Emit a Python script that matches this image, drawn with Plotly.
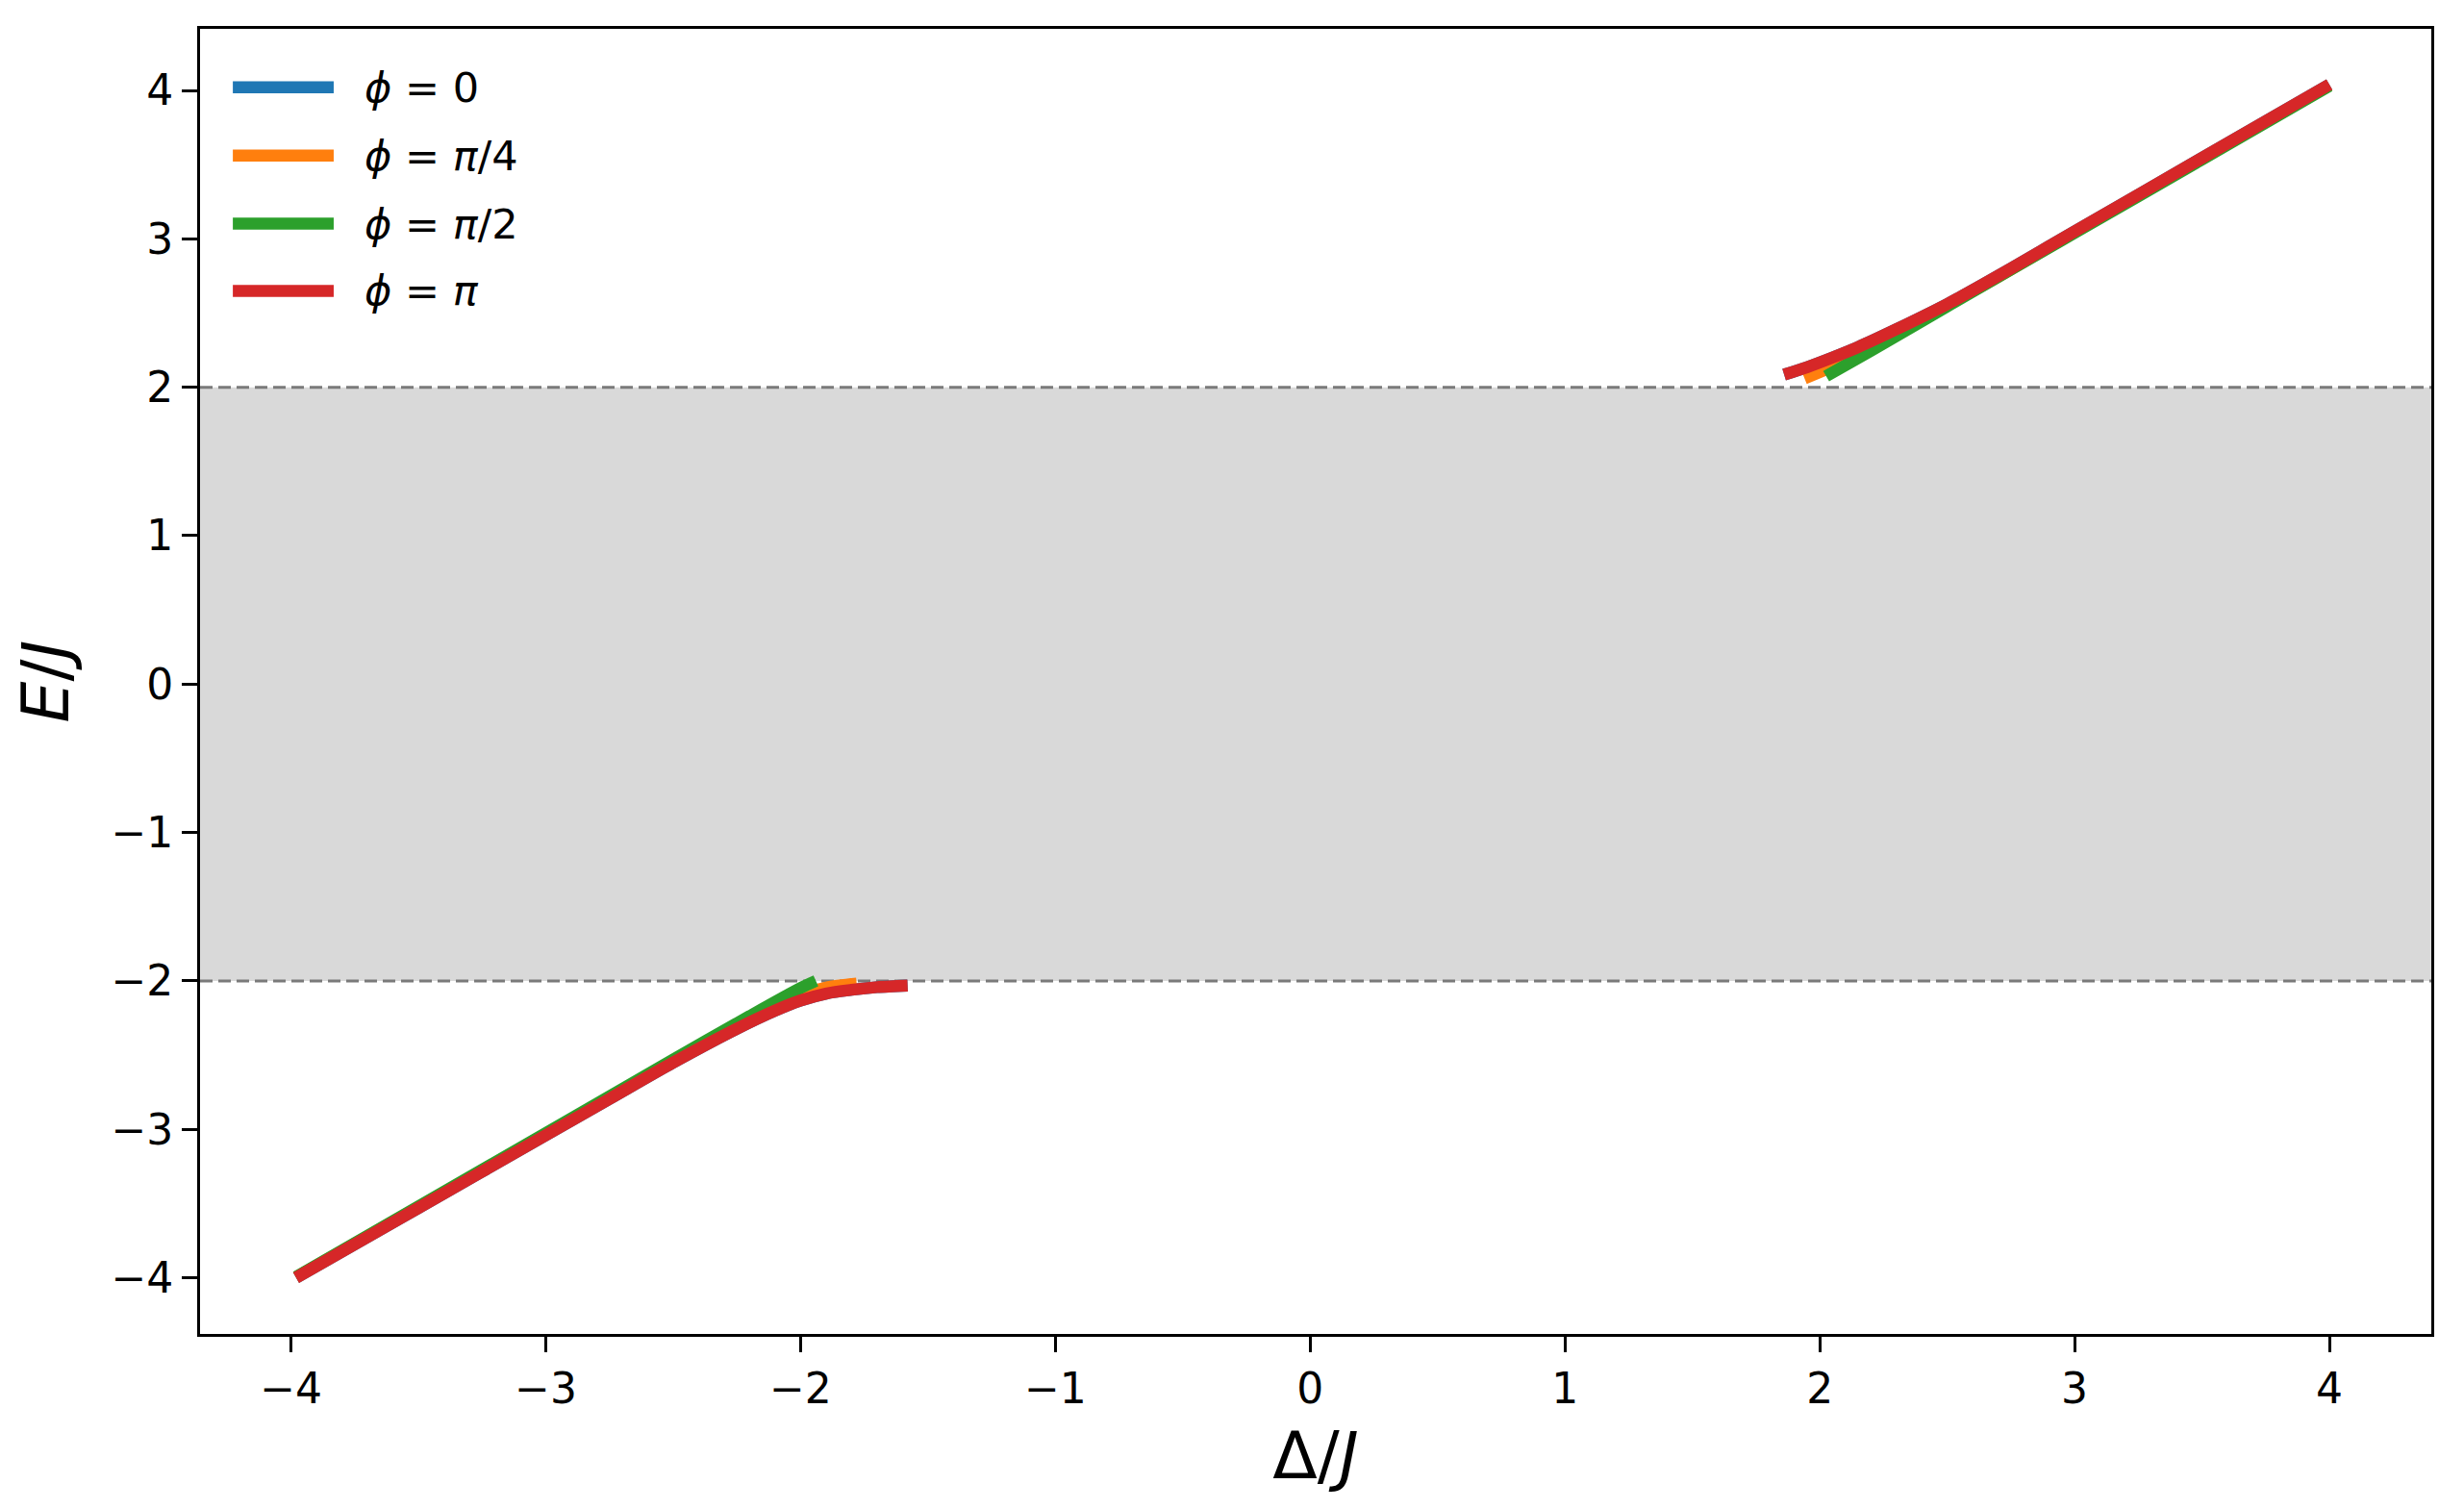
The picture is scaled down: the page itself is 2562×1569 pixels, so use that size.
import plotly.graph_objects as go

# ---- data ----
series_names = ["<i>ϕ</i> = 0", "<i>ϕ</i> = <i>π</i>/4", "<i>ϕ</i> = <i>π</i>/2", "<i>ϕ</i> = <i>π</i>"]
series_colors = ["#1f77b4", "#ff7f0e", "#2ca02c", "#d62728"]

# phi = 0 (hidden under the other curves in the reference)
d0_low = [-3.98, -3.5, -3.0, -2.75, -2.5, -2.25, -2.1, -2.0, -1.9, -1.8, -1.7, -1.58]
e0_low = [-4.0, -3.53, -3.04, -2.795, -2.55, -2.322, -2.2, -2.132, -2.085, -2.06, -2.042, -2.031]
d0_up = [1.86, 1.95, 2.05, 2.15, 2.3, 2.5, 2.75, 3.0, 3.5, 4.0]
e0_up = [2.085, 2.135, 2.2, 2.27, 2.39, 2.56, 2.80, 3.05, 3.545, 4.04]

# phi = pi/4
d1_low = [-3.98, -3.0, -2.5, -2.2, -2.0, -1.9, -1.78]
e1_low = [-3.997, -3.03, -2.54, -2.26, -2.095, -2.045, -2.018]
d1_up = [1.94, 2.05, 2.2, 2.4, 2.7, 3.0, 3.5, 4.0]
e1_up = [2.06, 2.14, 2.27, 2.46, 2.745, 3.045, 3.54, 4.035]

# phi = pi/2
d2_low = [-3.98, -3.0, -2.5, -2.2, -2.0, -1.94]
e2_low = [-3.995, -3.025, -2.53, -2.237, -2.048, -2.0]
d2_up = [2.025, 2.2, 2.5, 3.0, 3.5, 4.0]
e2_up = [2.075, 2.245, 2.545, 3.04, 3.535, 4.03]

# phi = pi
d3_low = [-3.98, -3.5, -3.0, -2.75, -2.5, -2.25, -2.1, -2.0, -1.9, -1.8, -1.7, -1.58]
e3_low = [-4.0, -3.53, -3.04, -2.795, -2.55, -2.322, -2.2, -2.132, -2.085, -2.06, -2.042, -2.031]
d3_up = [1.86, 1.95, 2.05, 2.15, 2.3, 2.5, 2.75, 3.0, 3.5, 4.0]
e3_up = [2.085, 2.135, 2.2, 2.27, 2.39, 2.56, 2.80, 3.05, 3.545, 4.04]

band_edges = [-2, 2]
x_ticks = [-4, -3, -2, -1, 0, 1, 2, 3, 4]
y_ticks = [-4, -3, -2, -1, 0, 1, 2, 3, 4]

all_series = [
    (d0_low, e0_low, d0_up, e0_up),
    (d1_low, e1_low, d1_up, e1_up),
    (d2_low, e2_low, d2_up, e2_up),
    (d3_low, e3_low, d3_up, e3_up),
]

FONT = "DejaVu Sans"
LW = 12.5

fig = go.Figure()
for (dl, el, du, eu), name, col in zip(all_series, series_names, series_colors):
    for xs, ys in ((dl, el), (du, eu)):
        fig.add_trace(go.Scatter(
            x=xs, y=ys, mode="lines", name=name, showlegend=False,
            line=dict(color=col, width=LW, shape="spline", smoothing=0.8),
            hoverinfo="skip",
        ))

# shaded continuum band and dashed edges
fig.add_shape(type="rect", xref="x domain", yref="y", x0=0, x1=1,
              y0=band_edges[0], y1=band_edges[1],
              fillcolor="#d9d9d9", line=dict(width=0), layer="below")
for yb in band_edges:
    fig.add_shape(type="line", xref="x domain", yref="y", x0=0, x1=1, y0=yb, y1=yb,
                  line=dict(color="#7a7a7a", width=3, dash="13px,6px"), layer="below")

# manual legend (matplotlib style)
leg_x0, leg_x1, leg_tx = 0.0147, 0.0599, 0.0727
leg_rows = [0.9553, 0.9030, 0.8507, 0.7992]
for name, col, yy in zip(series_names, series_colors, leg_rows):
    fig.add_shape(type="line", xref="paper", yref="paper", x0=leg_x0, x1=leg_x1,
                  y0=yy, y1=yy, line=dict(color=col, width=LW))
    fig.add_annotation(xref="paper", yref="paper", x=leg_tx, y=yy, text=name,
                       showarrow=False, xanchor="left", yanchor="middle",
                       font=dict(family=FONT, size=43, color="black"))

axis_common = dict(
    showgrid=False, zeroline=False, showline=True, linecolor="black", linewidth=2.7,
    mirror=True, ticks="outside", ticklen=16, tickwidth=2.7, tickcolor="black",
    tickfont=dict(family=FONT, size=44, color="black"), automargin=False,
)

fig.update_xaxes(range=[-4.357, 4.4], tickvals=x_ticks,
                 ticktext=[("\u2212" + str(-v)) if v < 0 else str(v) for v in x_ticks],
                 title=dict(text="Δ/<i>J</i>", font=dict(family=FONT, size=68, color="black"),
                            standoff=22),
                 **axis_common)
fig.update_yaxes(range=[-4.379, 4.415], tickvals=y_ticks,
                 ticktext=[("\u2212" + str(-v)) if v < 0 else str(v) for v in y_ticks],
                 title=dict(text="<i>E</i>/<i>J</i>", font=dict(family=FONT, size=68, color="black"),
                            standoff=22),
                 **axis_common)

# the page body has an 8px default margin; compensate so the plot area sits where the reference has it
fig.update_layout(
    width=2554, height=1561,
    margin=dict(l=200, r=34, t=22, b=182, pad=0),
    paper_bgcolor="white", plot_bgcolor="white",
    font=dict(family=FONT, color="black"),
    showlegend=False,
)

fig.write_html("out.html")
